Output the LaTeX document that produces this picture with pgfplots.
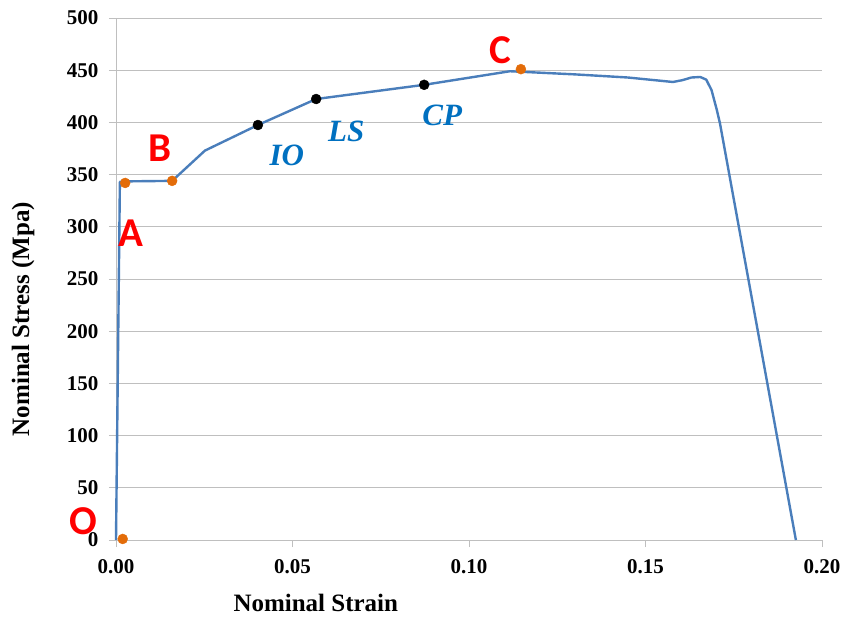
\documentclass[border=0pt]{standalone}
\usepackage{pgfplots}
\pgfplotsset{compat=1.18}
\usepackage{fontspec}
\setmainfont{Liberation Serif}
\newfontfamily\calibri{Carlito}
\definecolor{curve}{HTML}{4A7EBB}
\definecolor{dotor}{HTML}{E36C09}
\definecolor{lbl}{HTML}{0070C0}
\definecolor{gridc}{HTML}{BFBFBF}
\begin{document}
\begin{tikzpicture}
\path[use as bounding box] (-116pt,-76pt) rectangle (727pt,540pt);
\begin{axis}[
  scale only axis, width=706pt, height=522pt,
  at={(0pt,0pt)}, anchor=south west,
  xmin=0, xmax=0.2, ymin=0, ymax=500,
  xtick={0,0.05,0.1,0.15,0.2}, ytick={0,50,...,500},
  axis x line*=bottom, axis y line*=left,
  axis line style={gridc, line width=0.8pt},
  ymajorgrids, grid style={gridc, line width=0.8pt},
  tick align=outside, major tick length=7pt,
  tick style={gridc, line width=0.8pt},
  /pgf/number format/assume math mode=true,
  ticklabel style={font=\bfseries\fontsize{21}{21}\selectfont},
  xticklabel style={/pgf/number format/fixed, /pgf/number format/fixed zerofill,
    /pgf/number format/precision=2, yshift=-9pt},
  yticklabel style={xshift=-7pt},
  xlabel={Nominal Strain}, ylabel={Nominal Stress (Mpa)},
  label style={font=\bfseries\fontsize{25}{25}\selectfont},
  xlabel style={at={(axis description cs:0.283,0)}, anchor=center, yshift=-63pt},
  ylabel style={at={(axis description cs:0,0.423)}, anchor=center, rotate=0, yshift=93pt},
  clip=false,
]
\addplot[curve, line width=2.4pt, line join=round] coordinates {
(0,0) (0.0011,343) (0.0025,343.5) (0.0159,344) (0.0252,373) (0.0402,397.5)
(0.0567,422.4) (0.0873,436) (0.1116,449) (0.1147,448.5) (0.13,446) (0.145,443)
(0.1578,438.7) (0.1605,440.5) (0.163,443) (0.1655,443.5) (0.1672,441)
(0.1687,431) (0.1702,412) (0.1711,399) (0.1926,0)};
\addplot[only marks, mark=*, mark size=5pt, draw=dotor, fill=dotor] coordinates {
(0.0019,1) (0.0026,342) (0.0159,344) (0.1147,451)};
\addplot[only marks, mark=*, mark size=5pt, black] coordinates {
(0.0402,397.5) (0.0567,422.4) (0.0873,436)};
\node[text=red, font=\calibri\bfseries\fontsize{41}{41}\selectfont] at (axis cs:-0.0092,17.7) {O};
\node[text=red, font=\calibri\bfseries\fontsize{41}{41}\selectfont] at (axis cs:0.0042,294) {A};
\node[text=red, font=\calibri\bfseries\fontsize{41}{41}\selectfont] at (axis cs:0.0125,375.5) {B};
\node[text=red, font=\calibri\bfseries\fontsize{41}{41}\selectfont] at (axis cs:0.1088,469) {C};
\node[text=lbl, font=\bfseries\itshape\fontsize{31}{31}\selectfont] at (axis cs:0.0484,368.3) {IO};
\node[text=lbl, font=\bfseries\itshape\fontsize{31}{31}\selectfont] at (axis cs:0.0652,391.8) {LS};
\node[text=lbl, font=\bfseries\itshape\fontsize{31}{31}\selectfont] at (axis cs:0.0924,406.6) {CP};
\end{axis}
\end{tikzpicture}
\end{document}
